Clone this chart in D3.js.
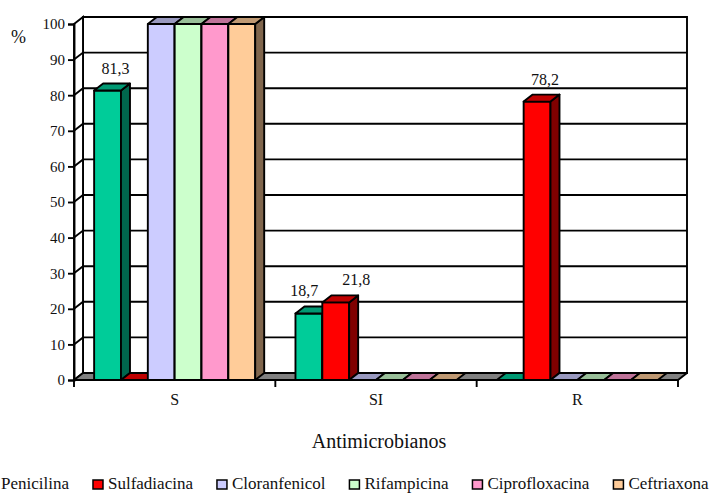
<!DOCTYPE html>
<html>
<head>
<meta charset="utf-8">
<script src="https://cdn.jsdelivr.net/npm/d3@7"></script>
<style>
  html, body { margin: 0; padding: 0; background: #fff; }
  svg { display: block; }
  text { font-family: "Times New Roman", "Liberation Serif", serif; fill: #111; }
</style>
</head>
<body>
<svg id="chart" width="712" height="493"></svg>
<script>
// Susceptibility categories and antimicrobial series (%)
const categories = ["S", "SI", "R"];
const seriesNames = ["Penicilina", "Sulfadiacina", "Cloranfenicol", "Rifampicina", "Ciprofloxacina", "Ceftriaxona"];
const seriesColors = ["#00CC99", "#FF0000", "#CCCCFF", "#CCFFCC", "#FF99CC", "#FFCC99"];
const penicilina     = [81.3, 18.7, 0];
const sulfadiacina   = [0, 21.8, 78.2];
const cloranfenicol  = [100, 0, 0];
const rifampicina    = [100, 0, 0];
const ciprofloxacina = [100, 0, 0];
const ceftriaxona    = [100, 0, 0];
const seriesValues = [penicilina, sulfadiacina, cloranfenicol, rifampicina, ciprofloxacina, ceftriaxona];
const yTicks = [0, 10, 20, 30, 40, 50, 60, 70, 80, 90, 100];
const labelledSeries = ["Penicilina", "Sulfadiacina"];

(function draw() {
  const svg = d3.select("#chart");

  // front plane of the 3-D box; depth is drawn as an up-right offset
  const pLeft = 74, pRight = 678, pTop = 24, pBottom = 380;
  const DX = 9, DY = -7;

  const x0 = d3.scaleBand().domain(categories).range([pLeft, pRight])
    .paddingInner(0.2).paddingOuter(0.1);
  const x1 = d3.scaleBand().domain(seriesNames).range([0, x0.bandwidth()]);
  const y = d3.scaleLinear().domain([0, 100]).range([pBottom, pTop]);

  const shade = (c, k) => { const r = d3.rgb(c); return d3.rgb(r.r * k, r.g * k, r.b * k).formatHex(); };
  const poly = pts => "M" + pts.map(p => p.join(",")).join("L") + "Z";
  const line = pts => "M" + pts.map(p => p.join(",")).join("L");
  const SW = 1.9;

  const floorPts = [[pLeft, pBottom], [pRight, pBottom], [pRight + DX, pBottom + DY], [pLeft + DX, pBottom + DY]];

  // back wall
  svg.append("path")
    .attr("d", poly([[pLeft + DX, y(100) + DY], [pRight + DX, y(100) + DY], [pRight + DX, pBottom + DY], [pLeft + DX, pBottom + DY]]))
    .attr("fill", "#fff").attr("stroke", "#000").attr("stroke-width", SW);

  // side wall
  svg.append("path")
    .attr("d", poly([[pLeft, y(100)], [pLeft + DX, y(100) + DY], [pLeft + DX, pBottom + DY], [pLeft, pBottom]]))
    .attr("fill", "#fff").attr("stroke", "#000").attr("stroke-width", SW);

  // gridlines on back and side walls
  const grid = svg.append("g").attr("stroke", "#000").attr("stroke-width", SW).attr("fill", "none");
  yTicks.filter(v => v > 0 && v < 100).forEach(v => {
    grid.append("path").attr("d", line([[pLeft, y(v)], [pLeft + DX, y(v) + DY], [pRight + DX, y(v) + DY]]));
  });

  // floor
  svg.append("path").attr("d", poly(floorPts))
    .attr("fill", "#808080").attr("stroke", "#000").attr("stroke-width", SW).attr("stroke-linejoin", "round");

  // bars, painted left to right so each hides the neighbour's hidden side
  const bars = [];
  categories.forEach((c, ci) => {
    seriesNames.forEach((s, si) => {
      bars.push({ cat: c, series: s, color: seriesColors[si], value: seriesValues[si][ci] });
    });
  });
  const barG = svg.append("g").attr("stroke", "#000").attr("stroke-width", SW).attr("stroke-linejoin", "round");
  bars.forEach(b => {
    const xl = x0(b.cat) + x1(b.series), xr = xl + x1.bandwidth();
    const yt = y(b.value), yb = y(0);
    if (b.value > 0) {
      barG.append("path").attr("fill", b.color).attr("d", poly([[xl, yt], [xr, yt], [xr, yb], [xl, yb]]));
      barG.append("path").attr("fill", shade(b.color, 0.5))
        .attr("d", poly([[xr, yt], [xr + DX, yt + DY], [xr + DX, yb + DY], [xr, yb]]));
    }
    barG.append("path").attr("fill", shade(b.color, 0.75))
      .attr("d", poly([[xl, yt], [xr, yt], [xr + DX, yt + DY], [xl + DX, yt + DY]]));
  });

  // value labels: centred over the bar top, neighbours in a category pushed apart
  const fmt = d3.formatLocale({ decimal: ",", thousands: ".", grouping: [3], currency: ["", ""] }).format(".1f");
  const labels = bars.filter(b => b.value > 0 && labelledSeries.includes(b.series)).map(b => ({
    ...b, cx: x0(b.cat) + x1(b.series) + x1.bandwidth() / 2 + 8, cy: y(b.value) + DY - 10
  }));
  const minSep = 52;
  categories.forEach(c => {
    const group = labels.filter(l => l.cat === c).sort((a, b) => a.cx - b.cx);
    for (let i = 1; i < group.length; i++) {
      const d = group[i].cx - group[i - 1].cx;
      if (d < minSep) {
        const push = (minSep - d) / 2;
        group[i - 1].cx -= push;
        group[i].cx += push;
      }
    }
  });
  svg.append("g").selectAll("text").data(labels).join("text")
    .attr("x", l => l.cx).attr("y", l => l.cy)
    .attr("text-anchor", "middle").attr("font-size", 16)
    .text(l => fmt(l.value));

  // y axis
  const yAxis = svg.append("g").attr("transform", `translate(${pLeft},0)`)
    .call(d3.axisLeft(y).tickValues(yTicks).tickSize(6).tickPadding(3));
  yAxis.attr("font-family", null);
  yAxis.select(".domain").attr("stroke", "#000").attr("stroke-width", SW);
  yAxis.selectAll(".tick line").attr("stroke", "#000").attr("stroke-width", SW);
  yAxis.selectAll(".tick text").attr("font-size", 15).attr("fill", "#111");

  // x axis: category ticks sit on band boundaries
  const xAxisG = svg.append("g").attr("stroke", "#000").attr("stroke-width", SW);
  const bounds = categories.map(c => x0(c) - x0.step() * 0.1).concat([pRight]);
  bounds.forEach(bx => xAxisG.append("line").attr("x1", bx).attr("x2", bx).attr("y1", pBottom).attr("y2", pBottom + 7));
  xAxisG.append("line").attr("x1", pLeft).attr("x2", pRight).attr("y1", pBottom).attr("y2", pBottom);
  svg.append("g").selectAll("text").data(categories).join("text")
    .attr("x", c => x0(c) + x0.bandwidth() / 2)
    .attr("y", 405)
    .attr("text-anchor", "middle").attr("font-size", 16)
    .text(c => c);

  // axis titles
  svg.append("text").attr("x", 11).attr("y", 43).attr("font-size", 18).text("%");
  svg.append("text").attr("x", (pLeft + pRight) / 2 + 3).attr("y", 448)
    .attr("text-anchor", "middle").attr("font-size", 20).text("Antimicrobianos");

  // legend along the bottom edge
  const legend = svg.append("g");
  let cursor = 1;
  seriesNames.forEach((s, i) => {
    const g = legend.append("g");
    const t = g.append("text").attr("x", cursor).attr("y", 489).attr("font-size", 17).text(s);
    g.append("rect").attr("x", cursor - 15).attr("y", 480).attr("width", 10).attr("height", 9)
      .attr("fill", seriesColors[i]).attr("stroke", "#000").attr("stroke-width", 1.5);
    cursor += t.node().getComputedTextLength() + 39;
  });
})();
</script>
</body>
</html>
